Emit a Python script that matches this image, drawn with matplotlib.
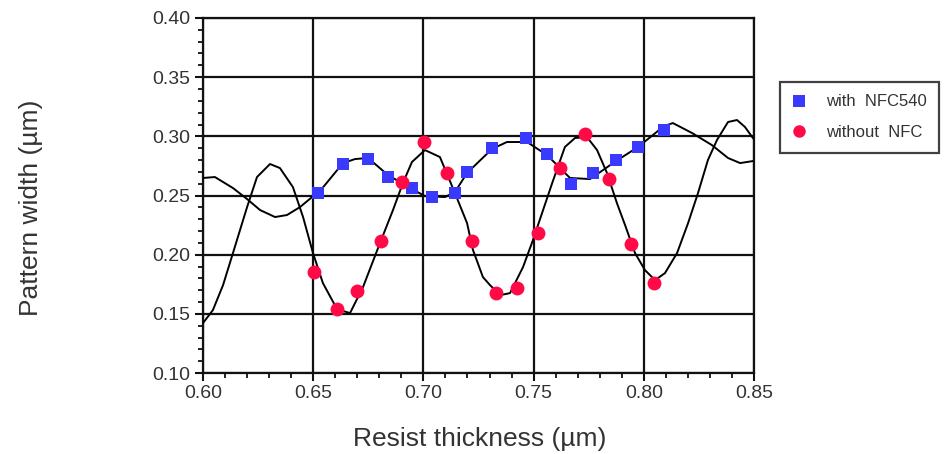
import matplotlib
matplotlib.use("Agg")
import matplotlib.pyplot as plt
from matplotlib.lines import Line2D
from matplotlib.ticker import MultipleLocator, FormatStrFormatter

plt.rcParams['font.family'] = ['Liberation Sans', 'DejaVu Sans']

# Measured points: with NFC540 (blue squares)
with_x = [0.6520, 0.6635, 0.6749, 0.6839, 0.6948, 0.7039, 0.7143, 0.7198,
          0.7311, 0.7466, 0.7561, 0.7670, 0.7770, 0.7874, 0.7974, 0.8092]
with_y = [0.2521, 0.2766, 0.2808, 0.2656, 0.2563, 0.2487, 0.2521, 0.2698,
          0.2901, 0.2986, 0.2850, 0.2597, 0.2690, 0.2800, 0.2910, 0.3053]

# Measured points: without NFC (red circles)
without_x = [0.6504, 0.6608, 0.6699, 0.6808, 0.6903, 0.7003, 0.7107, 0.7221,
             0.7329, 0.7425, 0.7520, 0.7620, 0.7733, 0.7842, 0.7942, 0.8046]
without_y = [0.1853, 0.1540, 0.1692, 0.2115, 0.2614, 0.2952, 0.2690, 0.2115,
             0.1675, 0.1718, 0.2183, 0.2732, 0.3020, 0.2639, 0.2090, 0.1760]

# Simulated curve: with NFC540
simA_x = [0.6000, 0.6054, 0.6136, 0.6200, 0.6259, 0.6327, 0.6381, 0.6440,
          0.6495, 0.6531, 0.6635, 0.6690, 0.6749, 0.6839, 0.6948, 0.7007,
          0.7098, 0.7143, 0.7198, 0.7311, 0.7379, 0.7470, 0.7561, 0.7665,
          0.7756, 0.7874, 0.7974, 0.8092, 0.8132, 0.8219, 0.8309, 0.8382,
          0.8437, 0.8495]
simA_y = [0.2648, 0.2656, 0.2563, 0.2470, 0.2377, 0.2318, 0.2335, 0.2402,
          0.2487, 0.2538, 0.2774, 0.2808, 0.2817, 0.2673, 0.2555, 0.2495,
          0.2487, 0.2529, 0.2690, 0.2893, 0.2952, 0.2952, 0.2842, 0.2648,
          0.2639, 0.2791, 0.2910, 0.3087, 0.3112, 0.3028, 0.2926, 0.2817,
          0.2774, 0.2791]

# Simulated curve: without NFC
simB_x = [0.6000, 0.6045, 0.6091, 0.6136, 0.6200, 0.6245, 0.6304, 0.6349,
          0.6408, 0.6454, 0.6499, 0.6544, 0.6608, 0.6667, 0.6726, 0.6803,
          0.6862, 0.6907, 0.6948, 0.7007, 0.7075, 0.7143, 0.7198, 0.7225,
          0.7270, 0.7302, 0.7348, 0.7393, 0.7452, 0.7497, 0.7543, 0.7586,
          0.7642, 0.7688, 0.7742, 0.7788, 0.7833, 0.7878, 0.7915, 0.7960,
          0.8005, 0.8051, 0.8096, 0.8151, 0.8201, 0.8246, 0.8291, 0.8332,
          0.8382, 0.8423, 0.8459, 0.8495]
simB_y = [0.1422, 0.1532, 0.1743, 0.2014, 0.2402, 0.2656, 0.2766, 0.2732,
          0.2571, 0.2318, 0.2014, 0.1760, 0.1540, 0.1506, 0.1726, 0.2098,
          0.2377, 0.2605, 0.2783, 0.2884, 0.2825, 0.2521, 0.2267, 0.2039,
          0.1811, 0.1743, 0.1658, 0.1675, 0.1895, 0.2123, 0.2377, 0.2614,
          0.2910, 0.2986, 0.2994, 0.2884, 0.2690, 0.2436, 0.2250, 0.2014,
          0.1870, 0.1785, 0.1844, 0.2014, 0.2267, 0.2521, 0.2800, 0.2969,
          0.3121, 0.3138, 0.3079, 0.2986]

series_labels = ["with  NFC540", "without  NFC"]
blue = "#3a3aff"
red = "#ff0a46"

fig = plt.figure(figsize=(9.46, 4.54), dpi=100)
ax = fig.add_axes([203/946, 1-373/454, (754-203)/946, (373-18)/454])

ax.set_xlim(0.60, 0.85)
ax.set_ylim(0.10, 0.40)
ax.xaxis.set_major_locator(MultipleLocator(0.05))
ax.xaxis.set_minor_locator(MultipleLocator(0.01))
ax.yaxis.set_major_locator(MultipleLocator(0.05))
ax.yaxis.set_minor_locator(MultipleLocator(0.01))
ax.xaxis.set_major_formatter(FormatStrFormatter('%.2f'))
ax.yaxis.set_major_formatter(FormatStrFormatter('%.2f'))

ax.grid(True, which='major', color='#111111', linewidth=1.6)
ax.set_axisbelow(True)
for s in ax.spines.values():
    s.set_linewidth(1.6)
    s.set_color('#111111')

ax.tick_params(which='major', direction='out', length=6, width=1.5,
               labelsize=14, pad=3, colors='#111111', labelcolor='#333333')
ax.tick_params(which='minor', direction='out', length=3.5, width=1.3,
               colors='#111111')

ax.plot(simA_x, simA_y, color='black', linewidth=1.4, zorder=3)
ax.plot(simB_x, simB_y, color='black', linewidth=1.4, zorder=3)
ax.plot(with_x, with_y, linestyle='none', marker='s', markersize=9,
        color=blue, markeredgewidth=0, zorder=4)
ax.plot(without_x, without_y, linestyle='none', marker='o', markersize=10,
        color=red, markeredgewidth=0, zorder=4)

ax.set_xlabel("Resist thickness (µm)", fontsize=19, color='#333333')
ax.set_ylabel("Pattern width (µm)", fontsize=19, color='#333333')
ax.xaxis.set_label_coords((480 - 203) / 551, (373 - 427) / 355)
ax.yaxis.set_label_coords((43 - 203) / 551, (373 - 208) / 355)

handles = [Line2D([], [], linestyle='none', marker='s', markersize=8,
                  color=blue, markeredgewidth=0),
           Line2D([], [], linestyle='none', marker='o', markersize=9,
                  color=red, markeredgewidth=0)]
leg = fig.legend(handles, series_labels, loc='upper left',
                 bbox_to_anchor=(780/946, 1-82/454), borderaxespad=0,
                 fontsize=12, frameon=True, fancybox=False, edgecolor='#111111',
                 handlelength=0.8, handletextpad=1.2, labelspacing=0.95,
                 borderpad=0.75)
leg.get_frame().set_linewidth(1.6)
for t in leg.get_texts():
    t.set_color('#333333')

fig.savefig("out.png", dpi=100)
